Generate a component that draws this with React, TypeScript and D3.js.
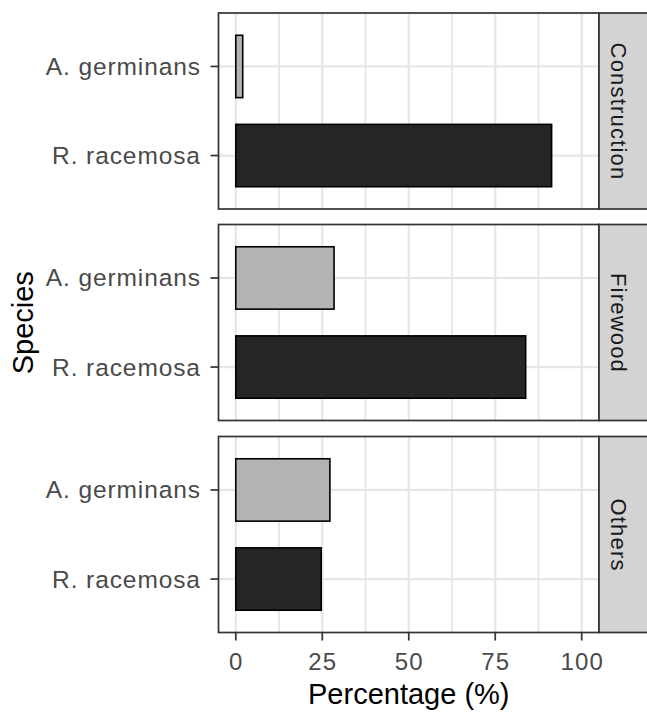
import { scaleLinear } from "d3";

// data ////////
const uses = ["Construction", "Firewood", "Others"];
const species = ["A. germinans", "R. racemosa"];
const germinans = [2.0, 28.4, 27.2];
const racemosa = [91.3, 83.8, 24.7];
const xTicks = [0, 25, 50, 75, 100];
const xMinor = [12.5, 37.5, 62.5, 87.5];

const fills = ["#b3b3b3", "#262626"];
const font = "'Liberation Sans', Arial, sans-serif";

const W = 647;
const H = 713;
const left = 218.5;
const right = 599;
const panelTops = [13, 224.5, 436.5];
const panelH = 196;
const gridCol = "#e6e6e6";

export default function App() {
  const x = scaleLinear().domain([-5, 105]).range([left, right]);
  const tickLs = 0.9;

  return (
    <div style={{ position: "absolute", left: 0, top: 0 }}>
      <svg width={W} height={H} style={{ display: "block", background: "#fff" }}>
        {uses.map((use, p) => {
          const top = panelTops[p];
          // discrete y with ggplot's 0.6 expansion on each side
          const y = scaleLinear().domain([0.4, 2.6]).range([top, top + panelH]);
          const vals = [germinans[p], racemosa[p]];
          return (
            <g key={use}>
              <rect x={left} y={top} width={right - left} height={panelH} fill="#fff" />
              {/* grid */}
              {xMinor.map((t) => (
                <line key={"m" + t} x1={x(t)} x2={x(t)} y1={top} y2={top + panelH} stroke={gridCol} strokeWidth={1.8} />
              ))}
              {xTicks.map((t) => (
                <line key={"M" + t} x1={x(t)} x2={x(t)} y1={top} y2={top + panelH} stroke={gridCol} strokeWidth={2.2} />
              ))}
              {species.map((s, i) => (
                <line key={"h" + s} x1={left} x2={right} y1={y(i + 1)} y2={y(i + 1)} stroke={gridCol} strokeWidth={2.2} />
              ))}
              {/* bars */}
              {vals.map((v, i) => (
                <rect
                  key={"b" + i}
                  x={x(0)}
                  y={y(i + 1 - 0.35)}
                  width={x(v) - x(0)}
                  height={y(i + 1 + 0.35) - y(i + 1 - 0.35)}
                  fill={fills[i]}
                  stroke="#000"
                  strokeWidth={1.6}
                />
              ))}
              {/* panel border */}
              <rect x={left} y={top} width={right - left} height={panelH} fill="none" stroke="#333" strokeWidth={1.7} />
              {/* strip */}
              <rect x={right} y={top} width={W - right + 5} height={panelH} fill="#d3d3d3" stroke="#333" strokeWidth={1.7} />
              <text
                transform={`translate(611,${top + panelH / 2 + 0.5}) rotate(90)`}
                textAnchor="middle"
                fontFamily={font}
                fontSize={22}
                letterSpacing={1.2}
                fill="#1a1a1a"
              >
                {use}
              </text>
              {/* y ticks and labels */}
              {species.map((s, i) => (
                <g key={"t" + s}>
                  <line x1={left - 8} x2={left} y1={y(i + 1)} y2={y(i + 1)} stroke="#333" strokeWidth={1.7} />
                  <text
                    x={200 + tickLs}
                    y={y(i + 1) + 8.5}
                    textAnchor="end"
                    fontFamily={font}
                    fontSize={24.5}
                    letterSpacing={tickLs}
                    fill="#4a4a4a"
                  >
                    {s}
                  </text>
                </g>
              ))}
            </g>
          );
        })}
        {/* x axis */}
        {xTicks.map((t) => (
          <g key={"x" + t}>
            <line x1={x(t)} x2={x(t)} y1={panelTops[2] + panelH} y2={panelTops[2] + panelH + 8} stroke="#333" strokeWidth={1.7} />
            <text
              x={x(t) + 0.6}
              y={669.5}
              textAnchor="middle"
              fontFamily={font}
              fontSize={24}
              letterSpacing={1.2}
              fill="#4a4a4a"
            >
              {t}
            </text>
          </g>
        ))}
        <text x={(left + right) / 2} y={704} textAnchor="middle" fontFamily={font} fontSize={29} fill="#000">
          Percentage (%)
        </text>
        <text
          transform={`translate(33,${(panelTops[0] + panelTops[2] + panelH) / 2}) rotate(-90)`}
          textAnchor="middle"
          fontFamily={font}
          fontSize={29}
          fill="#000"
        >
          Species
        </text>
      </svg>
    </div>
  );
}
